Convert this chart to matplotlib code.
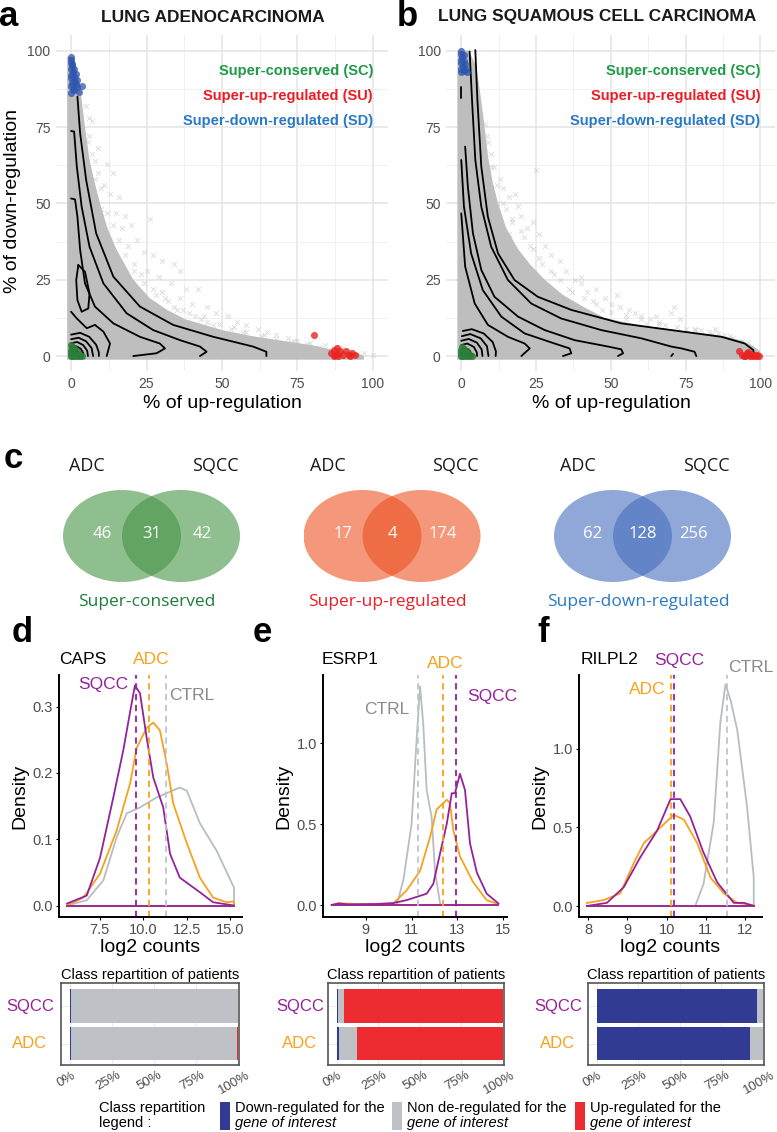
import numpy as np
import matplotlib.pyplot as plt
from matplotlib.patches import Ellipse

plt.rcParams['font.family'] = ['Liberation Sans', 'DejaVu Sans']

W, H = 777, 1132

# ---------------- panel a / b : scatter of % up vs % down ----------------
# dense grey cloud outline (x = % up, y = % down)
a_mass = np.array([(1, 98), (3, 88), (4.6, 75), (6, 65), (7.5, 58), (9.6, 50), (12, 42), (15, 35),
                   (20.6, 25), (26, 19), (32, 15), (38, 12), (50, 8.5), (60, 6.5), (70, 5), (80, 3.5),
                   (87, 2), (95, 1), (97, 0), (97, -1.2), (-1.3, -1.2), (-1.3, 98)])
b_mass = np.array([(-1.3, 100), (2.5, 100), (5, 95), (6.5, 85), (7.8, 75), (9, 65), (10.5, 57), (12.3, 50),
                   (15, 42), (19, 35), (23, 30), (27.9, 25), (34, 20), (41, 16), (48, 12.5), (60, 10),
                   (76, 8), (88, 6.5), (94, 5), (98, 3), (100, 1.5), (100, -1.2), (-1.3, -1.2)])

# scattered grey genes outside the dense cloud
a_halo = np.array([(5, 82), (7, 77), (6, 72), (9, 68), (8, 64), (12, 63), (14, 60), (11, 56), (13, 53),
                   (16, 52), (10, 48), (15, 47), (18, 46), (17, 42), (20, 43), (26, 45), (22, 38), (19, 36),
                   (24, 34), (27, 33), (30, 31), (34, 30), (36, 28), (25, 28), (29, 26), (33, 24), (38, 22),
                   (42, 22), (30, 21), (36, 19), (40, 17), (45, 16), (48, 14), (52, 13), (43, 12), (55, 11),
                   (58, 10), (47, 10), (62, 9), (65, 8), (50, 7), (68, 7), (72, 6), (60, 5.5), (75, 5),
                   (78, 4), (70, 3.5), (82, 3), (88, 2.8), (66, 2.5), (80, 2), (92, 1.8), (85, 1.2), (97, 1),
                   (90, 0.5), (100, 0.3), (76, 1), (21, 30), (23, 27), (28, 20), (32, 18), (35, 15), (39, 14),
                   (44, 13), (53, 9), (57, 8), (63, 6.5), (73, 4.5), (8, 58), (11, 40),
                   (6, 78), (5.5, 70), (7, 66), (9, 60), (10, 55), (12, 47), (14, 43), (16, 38), (18, 33),
                   (21, 28), (24, 24), (27, 22), (31, 19), (34, 16), (37, 15), (41, 13), (45, 11), (49, 10.5),
                   (54, 9.5), (58, 8), (64, 7), (68, 5.5), (74, 4.8), (79, 4.2), (84, 3.5), (90, 2.5)])
b_halo = np.array([(6, 80), (8, 76), (9, 70), (10, 66), (11, 62), (13, 58), (25, 61), (14, 55), (16, 52),
                   (18, 53), (15, 48), (19, 49), (20, 46), (17, 44), (22, 42), (24, 44), (21, 39), (26, 40),
                   (28, 36), (24, 35), (30, 33), (33, 31), (27, 30), (35, 28), (31, 27), (38, 25), (40, 24),
                   (36, 22), (42, 21), (45, 22), (44, 18), (48, 19), (50, 17), (53, 16), (47, 15), (56, 15),
                   (58, 14), (60, 13), (55, 12), (63, 12), (66, 11), (68, 10), (71, 16), (73, 12), (75, 9),
                   (78, 9), (80, 8.5), (83, 8), (86, 7.5), (88, 7), (91, 6), (94, 5), (70, 14), (62, 10.5),
                   (85, 9), (25, 25), (40, 26), (52, 20), (65, 13), (29, 22), (34, 18), (12, 50), (16, 40),
                   (8.5, 72), (10, 62), (12, 56), (14, 50), (17, 45), (20, 41), (23, 36), (26, 32), (30, 28),
                   (33, 25), (37, 21), (41, 19), (45, 17), (50, 14.5), (55, 13.5), (60, 12), (66, 10.5),
                   (72, 9.5), (78, 8.5), (84, 7.2), (90, 6.5), (96, 4.5)])

# 2D density contour lines (open at the data borders)
a_contours = [
    [(2.1, 84.9), (3.0, 72.9), (5.0, 57.6), (8.3, 40.2), (14.0, 26.0), (22.8, 16.2), (33.8, 10.2),
     (47.1, 6.3), (60.3, 3.1), (64.7, 1.4), (64.7, 0)],
    [(0, 73.7), (1, 73.5), (1.9, 62), (3.5, 48.9), (6.1, 35.8), (10.7, 23.8), (18.4, 14), (27.2, 8.5),
     (36.1, 5.2), (42.7, 3.1), (44.9, 1.4), (42.7, 0)],
    [(0, 51.6), (1.3, 51.3), (2.1, 45.6), (3, 34.7), (4.6, 23.8), (7.9, 16.2), (14, 10.7), (22.8, 6.3),
     (29.4, 4.1), (31.1, 2.5), (28.3, 0.9), (20.6, 0)],
    [(2.4, 29.8), (4.6, 27.6), (6.1, 20.5), (5.7, 15.6), (3.5, 14.5), (2.1, 18.3), (1.7, 24.9), (2.4, 29.8)],
    [(0, 14.5), (1.9, 12.3), (5.2, 9.1), (7.9, 10.2), (10.7, 8.0), (12.9, 4.1), (11.8, 0)],
    [(0, 7.0), (3.0, 7.6), (6.0, 6.3), (8.3, 3.7), (9.2, 1.2), (9.2, 0)],
    [(0, 5.5), (2.5, 6.0), (5.0, 4.8), (6.8, 2.6), (7.3, 0)],
    [(0, 4.2), (2.0, 4.6), (4.0, 3.6), (5.3, 1.8), (5.6, 0)],
    [(0, 3.0), (1.5, 3.3), (3.2, 2.4), (4.0, 1.0), (4.1, 0)],
    [(0, 1.8), (1.2, 2.0), (2.3, 1.3), (2.7, 0)],
]
b_contours = [
    [(4.7, 100.2), (5.4, 83.8), (6.7, 62), (8.9, 45.6), (12.3, 33.6), (17.8, 24.9), (25.6, 19.4),
     (36.8, 15.1), (53.5, 10.7), (70.2, 8.5), (87, 6.3), (94.8, 4.1), (97.6, 2), (98.1, 0)],
    [(2.8, 99.7), (3.6, 83.8), (4.7, 64.2), (6.7, 48.9), (10, 35.8), (15.6, 24.9), (23.4, 17.2),
     (33.4, 12.3), (46.8, 8.5), (60.2, 5.8), (70.2, 3.1), (73.6, 2.5), (78, 1.4), (78.6, 0)],
    [(1.3, 68.6), (2.2, 55.5), (3.9, 40.2), (6.7, 28.2), (11.1, 19.4), (19, 12.9), (27.9, 8.5),
     (37.9, 5.2), (49.1, 3.1), (53.5, 2.2), (54.1, 0.9), (52.4, 0)],
    [(0, 64.2), (0.9, 48.9), (3.3, 33.6), (7.2, 21.6), (13.4, 12.9), (21.2, 7.4), (31.2, 4.1),
     (36.2, 2.5), (36.8, 0.9), (34, 0)],
    [(0, 46.7), (1.3, 29.3), (4.5, 17.2), (8.9, 10.2), (15.6, 6.3), (21.2, 4.1), (22.9, 2.5), (20.1, 0)],
    [(0, 88), (0, 84.5)],
    [(70.2, 0), (70.8, 0.7)],
    [(0.5, 8.2), (3.5, 8.8), (7.5, 7.4), (10.5, 4.6), (11.6, 1.5), (11.5, 0)],
    [(0.2, 6.5), (3.0, 7.2), (6.5, 5.8), (8.6, 3.2), (9.1, 0)],
    [(0, 5.0), (2.5, 5.6), (5.2, 4.4), (6.8, 2.2), (7.1, 0)],
    [(0, 3.6), (2.0, 4.1), (4.2, 3.0), (5.2, 1.2), (5.3, 0)],
    [(0, 2.2), (1.5, 2.6), (3.0, 1.6), (3.4, 0)],
]

# highlighted genes
a_sd = np.array([(0, 98), (0, 97), (0, 96), (0.3, 95), (0, 94), (0.5, 93), (0, 92), (0.8, 91.5), (0, 91),
                 (1, 90), (0.3, 89.5), (1.5, 89), (0, 88.5), (2, 88), (0.5, 87.5), (1, 87), (2.5, 86.5),
                 (0, 86), (3.5, 88.5), (1.5, 92.5), (0.2, 95.5), (1, 94), (2, 90.5)])
a_sc = np.array([(0, 0), (0.5, 0.5), (1, 1), (0, 2), (0.3, 3), (1.5, 0), (2, 0.5), (2.5, 0), (3, 0.3),
                 (0, 1), (1, 2.5), (3.5, 0), (0.7, 0), (1.8, 1.5), (0, 3.5)])
a_su = np.array([(86, 1), (87, 2), (87.5, 0.3), (88, 0.8), (88.5, 0), (89, 1.5), (90, 0.5), (91, 1.8),
                 (92, 0.3), (92.5, 0), (93, 1), (94, 0.2), (88, 2.5), (87, 0), (80.5, 7)])
b_sd = np.array([(0, 100), (0, 99), (0.3, 98), (0, 97), (0.8, 96.5), (0, 96), (1.2, 95.5), (0.5, 95),
                 (0, 94), (1.5, 94), (0.8, 93.5), (2, 93), (0, 93), (1, 98.5)])
b_sc = np.array([(0, 0), (0.5, 0.5), (1, 1), (0, 2), (0.3, 2.8), (1.5, 0), (2, 0.5), (2.5, 0), (3, 0.3),
                 (0, 1), (1, 2.2), (3.5, 0), (0.7, 0), (1.8, 1.5)])
b_su = np.array([(93, 1.5), (94, 0.5), (95, 0), (95.5, 1), (96, 0.3), (96.5, 0), (97, 0.8), (97.5, 0),
                 (98, 0.4), (98.5, 0), (99, 0.2), (99.5, 0), (94.5, 0), (96, 1.2)])

# ---------------- panel c : Venn counts ----------------
venn_titles = ['Super-conserved', 'Super-up-regulated', 'Super-down-regulated']
venn_counts = [(46, 31, 42), (17, 4, 174), (62, 128, 256)]

# ---------------- panels d-f : densities of log2 counts ----------------
d_ctrl = np.array([(5.64, 0), (6.77, 0.008), (7.72, 0.038), (8.48, 0.103), (9.06, 0.139), (9.82, 0.148),
                   (10.77, 0.163), (12.1, 0.178), (12.5, 0.173), (13.25, 0.124), (14.2, 0.083),
                   (15.2, 0.027), (15.2, 0)])
d_adc = np.array([(5.64, 0), (6.57, 0.012), (7.53, 0.048), (8.48, 0.113), (9.25, 0.184), (9.63, 0.238),
                  (10.2, 0.268), (10.58, 0.276), (10.96, 0.264), (11.35, 0.214), (11.72, 0.154),
                  (12.5, 0.094), (13.25, 0.042), (14.0, 0.012), (14.78, 0.005), (15.2, 0.006), (15.2, 0)])
d_sqcc = np.array([(5.64, 0.003), (6.77, 0.015), (7.53, 0.072), (8.29, 0.163), (8.86, 0.234),
                   (9.34, 0.305), (9.53, 0.332), (9.82, 0.32), (10.2, 0.253), (10.58, 0.193),
                   (11.15, 0.148), (11.54, 0.078), (12.1, 0.042), (13.25, 0.02), (14.0, 0.005), (15.2, 0)])
e_ctrl = np.array([(10.35, 0), (10.64, 0.154), (11.0, 0.5), (11.22, 1.02), (11.37, 1.35), (11.51, 1.12),
                   (11.66, 0.71), (11.88, 0.54), (12.03, 0.2), (12.25, 0.01), (12.3, 0)])
e_adc = np.array([(7.5, 0), (7.8, 0.01), (9.0, 0.005), (10.2, 0.01), (10.78, 0.09), (11.37, 0.21),
                  (11.81, 0.42), (12.1, 0.59), (12.54, 0.65), (12.68, 0.63), (12.83, 0.46), (13.12, 0.3),
                  (13.7, 0.14), (14.29, 0.03), (14.8, 0.005)])
e_sqcc = np.array([(7.5, 0), (7.8, 0.01), (8.2, 0.004), (9.5, 0.006), (10.2, 0.012), (10.78, 0.03),
                   (11.22, 0.05), (11.66, 0.07), (11.95, 0.13), (12.25, 0.32), (12.54, 0.5), (12.76, 0.69),
                   (12.9, 0.69), (13.12, 0.81), (13.34, 0.71), (13.56, 0.38), (13.86, 0.2), (14.29, 0.07),
                   (14.8, 0.01)])
f_ctrl = np.array([(10.73, 0), (10.94, 0.14), (11.2, 0.53), (11.37, 1.17), (11.5, 1.41), (11.63, 1.31),
                   (11.8, 1.12), (12.05, 0.63), (12.22, 0.18), (12.22, 0)])
f_adc = np.array([(7.97, 0.019), (8.4, 0.038), (8.82, 0.08), (9.16, 0.27), (9.42, 0.4), (9.76, 0.48),
                  (10.18, 0.58), (10.44, 0.55), (10.78, 0.4), (11.12, 0.18), (11.46, 0.08), (11.8, 0.02),
                  (12.22, 0.005)])
f_sqcc = np.array([(7.97, 0), (8.48, 0.02), (8.91, 0.12), (9.33, 0.31), (9.76, 0.48), (10.1, 0.68),
                   (10.35, 0.68), (10.6, 0.57), (10.94, 0.34), (11.29, 0.15), (11.71, 0.02), (11.97, 0.02),
                   (12.22, 0)])
genes = ['CAPS', 'ESRP1', 'RILPL2']
medians = {'d': (11.31, 10.33, 9.59), 'e': (11.3, 12.38, 12.95), 'f': (11.55, 10.1, 10.2)}  # CTRL, ADC, SQCC
dens_xticks = [[7.5, 10.0, 12.5, 15.0], [9, 11, 13, 15], [8, 9, 10, 11, 12]]
dens_yticks = [[0.0, 0.1, 0.2, 0.3], [0.0, 0.5, 1.0], [0.0, 0.5, 1.0]]

# class repartition of patients (% down, % non de-regulated, % up) ; rows = ADC, SQCC
rep_groups = ['ADC', 'SQCC']
rep_down = [[0.5, 0.8], [1.5, 0.5], [92.0, 96.5]]
rep_none = [[98.8, 99.0], [10.5, 3.5], [8.0, 3.5]]
rep_up = [[0.7, 0.2], [88.0, 96.0], [0.0, 0.0]]
rep_ticks = [0, 0.25, 0.5, 0.75, 1.0]
rep_ticklabels = ['0%', '25%', '50%', '75%', '100%']

# ---------------- colours ----------------
C_GREEN_T, C_RED_T, C_BLUE_T = '#1f9a47', '#ec1c24', '#2a79c6'
C_SQCC, C_ADC, C_CTRL = '#94229a', '#f7a21b', '#b8bdc4'
C_DOWN, C_NONE, C_UP = '#323b94', '#bec1c6', '#ec2c30'

fig = plt.figure(figsize=(W / 100, H / 100), dpi=100)


def px_axes(l, t, r, b):
    return fig.add_axes([l / W, 1 - b / H, (r - l) / W, (b - t) / H])


def px_text(x, y, s, **kw):
    kw.setdefault('ha', 'center')
    kw.setdefault('va', 'center')
    fig.text(x / W, 1 - y / H, s, **kw)


def scatter_panel(ax, mass, halo, contours, sd, sc, su):
    ax.set_xlim(-5, 105)
    ax.set_ylim(-5, 105)
    ticks = [0, 25, 50, 75, 100]
    ax.set_xticks(ticks)
    ax.set_yticks(ticks)
    ax.set_xticks([12.5, 37.5, 62.5, 87.5], minor=True)
    ax.set_yticks([12.5, 37.5, 62.5, 87.5], minor=True)
    ax.grid(which='major', color='#e4e4e4', lw=1.1)
    ax.grid(which='minor', color='#f0f0f0', lw=0.7)
    ax.set_axisbelow(True)
    for s in ax.spines.values():
        s.set_visible(False)
    ax.tick_params(which='both', length=0, labelsize=10, labelcolor='#4d4d4d', pad=4)
    ax.fill(mass[:, 0], mass[:, 1], color='#bebebe', lw=0, zorder=2)
    ax.scatter(halo[:, 0], halo[:, 1], marker='x', s=12, linewidths=0.7, color='#c2c2c2', alpha=0.55, zorder=2)
    for c in contours:
        c = np.array(c)
        ax.plot(c[:, 0], c[:, 1], color='black', lw=1.3, zorder=4, solid_capstyle='round')
    ax.scatter(sd[:, 0], sd[:, 1], s=26, color='#2d55b0', alpha=0.75, lw=0, zorder=5)
    ax.scatter(sc[:, 0], sc[:, 1], s=26, color='#2b7d3a', alpha=0.85, lw=0, zorder=5)
    ax.scatter(su[:, 0], su[:, 1], s=26, color='#ec2320', alpha=0.8, lw=0, zorder=5)
    ax.text(0.955, 0.895, 'Super-conserved (SC)', transform=ax.transAxes, ha='right', va='center',
            color=C_GREEN_T, fontsize=10.5, fontweight='bold')
    ax.text(0.955, 0.82, 'Super-up-regulated (SU)', transform=ax.transAxes, ha='right', va='center',
            color=C_RED_T, fontsize=10.5, fontweight='bold')
    ax.text(0.955, 0.745, 'Super-down-regulated (SD)', transform=ax.transAxes, ha='right', va='center',
            color=C_BLUE_T, fontsize=10.5, fontweight='bold')


ax_a = px_axes(56, 35.4, 388, 371.3)
scatter_panel(ax_a, a_mass, a_halo, a_contours, a_sd, a_sc, a_su)
ax_b = px_axes(446.3, 35.4, 775.3, 371.3)
scatter_panel(ax_b, b_mass, b_halo, b_contours, b_sd, b_sc, b_su)

px_text(9, 17, 'a', fontsize=25, fontweight='bold')
px_text(407, 17, 'b', fontsize=25, fontweight='bold')
px_text(213, 17, 'LUNG ADENOCARCINOMA', fontsize=12.5, fontweight='bold', color='#1a1a1a')
px_text(597, 17, 'LUNG SQUAMOUS CELL CARCINOMA', fontsize=12.5, fontweight='bold', color='#1a1a1a')
px_text(13, 201, '% of down-regulation', fontsize=14, rotation=90)
px_text(222, 403, '% of up-regulation', fontsize=14)
px_text(611, 403, '% of up-regulation', fontsize=14)

# ---------------- Venn diagrams ----------------
px_text(13, 459, 'c', fontsize=25, fontweight='bold')
venn_left = [63, 303.5, 554]
venn_face = ['#449444', '#ed5221', '#466ebe']
venn_title_col = ['#1b7d3c', C_RED_T, C_BLUE_T]
for i in range(3):
    vx = px_axes(venn_left[i], 490, venn_left[i] + 177, 582)
    vx.set_xlim(0, 177)
    vx.set_ylim(92, 0)
    vx.axis('off')
    for cx in (59, 118):
        vx.add_patch(Ellipse((cx, 46), 118, 92, facecolor=venn_face[i], alpha=0.6, lw=0))
    for cx, n in zip((39, 88.5, 139), venn_counts[i]):
        vx.text(cx, 44, str(n), ha='center', va='center', color='white', fontsize=12, family='Open Sans')
    px_text(venn_left[i] + 24, 466, 'ADC', fontsize=13, family='Open Sans', color='#1a1a1a')
    px_text(venn_left[i] + 152, 466, 'SQCC', fontsize=13, family='Open Sans', color='#1a1a1a')
    px_text(venn_left[i] + 84, 602, venn_titles[i], fontsize=12.5, family='Open Sans', color=venn_title_col[i])

# ---------------- density panels ----------------
dens_boxes = [(59, 242), (323, 507), (579, 762)]
dens_ylims = [(-0.0173, 0.3477), (-0.074, 1.42), (-0.07, 1.47)]
dens_xlims = [(5.18, 15.66), (7.12, 15.18), (7.77, 12.43)]
dens_curves = [(d_ctrl, d_adc, d_sqcc), (e_ctrl, e_adc, e_sqcc), (f_ctrl, f_adc, f_sqcc)]
letters = ['d', 'e', 'f']
letter_x = [22, 262, 543]
for i in range(3):
    l, r = dens_boxes[i]
    ax = px_axes(l, 675, r, 917)
    ax.set_xlim(*dens_xlims[i])
    ax.set_ylim(*dens_ylims[i])
    for side in ('top', 'right'):
        ax.spines[side].set_visible(False)
    for side in ('left', 'bottom'):
        ax.spines[side].set_linewidth(1.4)
    ax.set_xticks(dens_xticks[i])
    ax.set_yticks(dens_yticks[i])
    ax.set_xticklabels([f'{t:.1f}' if i == 0 else f'{t:g}' for t in dens_xticks[i]])
    ax.set_yticklabels([f'{t:.1f}' for t in dens_yticks[i]])
    ax.tick_params(length=2.5, width=0.8, labelsize=10.5, labelcolor='#4d4d4d', pad=2)
    for curve, col in zip(dens_curves[i], (C_CTRL, C_ADC, C_SQCC)):
        ax.plot(curve[:, 0], curve[:, 1], color=col, lw=1.3)
        ax.plot([curve[0, 0], curve[-1, 0]], [0, 0], color=col, lw=1.3)
    for med, col in zip(medians[letters[i]], ('#c0c4ca', C_ADC, C_SQCC)):
        ax.axvline(med, color=col, lw=1.3, ls=(0, (3.5, 2.5)))
    ax.set_xlabel('log2 counts', fontsize=14, labelpad=1)
    ax.set_ylabel('Density', fontsize=14, labelpad=3)
    px_text(letter_x[i], 633, letters[i], fontsize=25, fontweight='bold')

# labels above density curves
px_text(83, 660, 'CAPS', fontsize=12.5)
px_text(151, 660, 'ADC', fontsize=12.5, color=C_ADC)
px_text(103, 685, 'SQCC', fontsize=12.5, color=C_SQCC)
px_text(192, 696, 'CTRL', fontsize=12.5, color='#8a8a8a')
px_text(350, 660, 'ESRP1', fontsize=12.5)
px_text(445, 664, 'ADC', fontsize=12.5, color=C_ADC)
px_text(492, 696, 'SQCC', fontsize=12.5, color=C_SQCC)
px_text(387, 710, 'CTRL', fontsize=12.5, color='#8a8a8a')
px_text(609, 660, 'RILPL2', fontsize=12.5)
px_text(679, 660, 'SQCC', fontsize=12.5, color=C_SQCC)
px_text(647, 690, 'ADC', fontsize=12.5, color=C_ADC)
px_text(751, 667, 'CTRL', fontsize=12.5, color='#8a8a8a')

# ---------------- class repartition bars ----------------
bar_boxes = [(61, 239), (328, 504), (588, 764)]
bar_label_x = [30, 300, 558]
ypos = np.arange(len(rep_groups))
for i in range(3):
    l, r = bar_boxes[i]
    ax = px_axes(l, 983, r, 1065)
    down = np.array(rep_down[i]) / 100
    none = np.array(rep_none[i]) / 100
    up = np.array(rep_up[i]) / 100
    ax.barh(ypos, down, height=0.9, color=C_DOWN, lw=0)
    ax.barh(ypos, none, left=down, height=0.9, color=C_NONE, lw=0)
    ax.barh(ypos, up, left=down + none, height=0.9, color=C_UP, lw=0)
    ax.set_xlim(-0.054, 1.006)
    ax.set_ylim(-0.573, 1.613)
    ax.set_xticks(rep_ticks)
    ax.set_xticklabels([])
    for t, lab in zip(rep_ticks, rep_ticklabels):
        ax.annotate(lab, xy=(t, 0), xycoords=('data', 'axes fraction'), xytext=(-3, -3),
                    textcoords='offset points', rotation=30, ha='center', va='top',
                    fontsize=9.5, color='#4d4d4d')
    ax.set_yticks(ypos)
    ax.set_yticklabels([])
    ax.grid(color='#ececec', lw=0.8)
    ax.set_axisbelow(True)
    ax.tick_params(length=0)
    for s in ax.spines.values():
        s.set_color('#555555')
        s.set_linewidth(1.2)
    ax.set_title('Class repartition of patients', fontsize=10.5, pad=3)
    px_text(bar_label_x[i], 1044, 'ADC', fontsize=12, color=C_ADC)
    px_text(bar_label_x[i], 1007, 'SQCC', fontsize=12, color=C_SQCC)

# legend of the classes
px_text(99, 1108, 'Class repartition', fontsize=10.5, ha='left')
px_text(99, 1123, 'legend :', fontsize=10.5, ha='left')
leg_x = [220, 392, 575]
leg_col = [C_DOWN, C_NONE, C_UP]
leg_txt = ['Down-regulated for the', 'Non de-regulated for the', 'Up-regulated for the']
lax = fig.add_axes([0, 0, 1, 1], zorder=-1)
lax.set_xlim(0, W)
lax.set_ylim(H, 0)
lax.axis('off')
for x0, col, t in zip(leg_x, leg_col, leg_txt):
    lax.add_patch(plt.Rectangle((x0, 1102), 10, 28, color=col, lw=0))
    px_text(x0 + 15, 1108, t, fontsize=10.5, ha='left')
    px_text(x0 + 15, 1123, 'gene of interest', fontsize=10.5, ha='left', style='italic')

fig.savefig('out.png', dpi=100)
